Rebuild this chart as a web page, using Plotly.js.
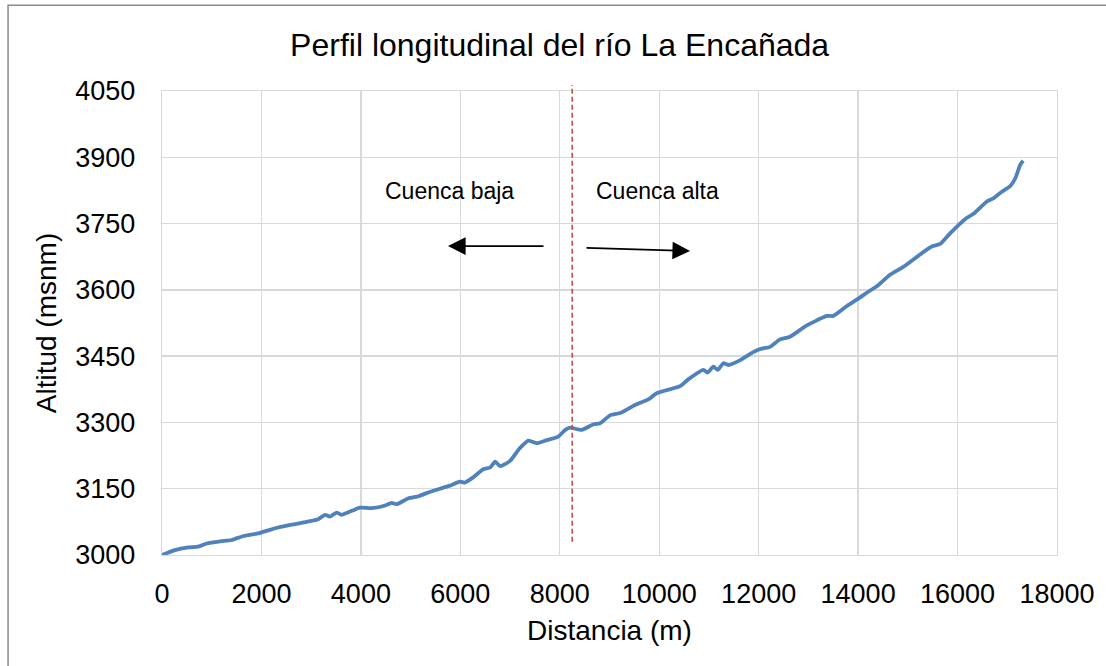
<!DOCTYPE html>
<html>
<head>
<meta charset="utf-8">
<script src="https://cdn.plot.ly/plotly-3.0.1.min.js"></script>
<style>html,body{margin:0;padding:0;background:#fff;}#chart{width:1106px;height:666px;}</style>
</head>
<body>
<div id="chart"></div>
<script>
// Distance along river (m)
const distancia = [0,260,530,730,900,1170,1400,1640,1940,2170,2410,2680,2910,3140,3280,3380,3510,3610,3820,3980,4220,4490,4620,4720,4950,5160,5320,5590,5790,5990,6090,6260,6460,6600,6700,6800,7000,7190,7370,7540,7740,7970,8110,8210,8440,8680,8810,9010,9230,9520,9780,9950,10420,10590,10890,10970,11090,11180,11290,11390,11630,11830,12030,12230,12430,12630,12930,13100,13370,13500,13770,14040,14140,14410,14640,14910,15210,15480,15650,15850,16150,16320,16590,16720,16890,17060,17160,17260,17320];
// Altitude (msnm)
const altitud = [3000,3011,3017,3019,3026,3031,3034,3043,3049,3057,3064,3070,3075,3081,3091,3087,3096,3091,3100,3107,3106,3112,3118,3115,3128,3133,3140,3150,3157,3166,3164,3176,3194,3198,3211,3201,3213,3241,3259,3253,3260,3268,3283,3288,3283,3296,3298,3316,3322,3340,3352,3366,3382,3398,3419,3413,3426,3419,3434,3430,3441,3455,3466,3471,3488,3494,3517,3527,3541,3541,3563,3583,3591,3611,3634,3652,3677,3698,3704,3728,3760,3772,3800,3807,3822,3835,3852,3883,3892];

const xTicks = [0,2000,4000,6000,8000,10000,12000,14000,16000,18000];
const yTicks = [3000,3150,3300,3450,3600,3750,3900,4050];
const xRange = [0,18000];
const yRange = [3000,4050];

// Division between lower and upper basin (m)
const division = 8250;
const divisionLow = 3030;
const labels = ["Cuenca baja","Cuenca alta"];
const labelX = [5790, 9956];
const labelY = 3824;
const arrowLeft = {head:[5752,3699], tail:[7703,3699]};
const arrowRight = {head:[10620,3688], tail:[8508,3695]};

const font = "Liberation Sans, Arial, sans-serif";
const divPaper = (division - xRange[0]) / (xRange[1] - xRange[0]);
const lowPaper = (divisionLow - yRange[0]) / (yRange[1] - yRange[0]);

const trace = {
  x: distancia, y: altitud, type: 'scatter', mode: 'lines',
  line: {color: '#4f81bd', width: 3.8, shape: 'spline', smoothing: 0.6},
  hoverinfo: 'skip'
};

const ann = [
  {x: labelX[0], y: labelY, xref:'x', yref:'y', text: labels[0], showarrow:false, font:{family:font, size:23, color:'#000'}},
  {x: labelX[1], y: labelY, xref:'x', yref:'y', text: labels[1], showarrow:false, font:{family:font, size:23, color:'#000'}},
  {x: arrowLeft.head[0], y: arrowLeft.head[1], ax: arrowLeft.tail[0], ay: arrowLeft.tail[1], xref:'x', yref:'y', axref:'x', ayref:'y', text:'', showarrow:true, arrowhead:2, arrowsize:2.2, arrowwidth:1.6, arrowcolor:'#000', standoff:0, startstandoff:0},
  {x: arrowRight.head[0], y: arrowRight.head[1], ax: arrowRight.tail[0], ay: arrowRight.tail[1], xref:'x', yref:'y', axref:'x', ayref:'y', text:'', showarrow:true, arrowhead:2, arrowsize:2.2, arrowwidth:1.6, arrowcolor:'#000', standoff:0, startstandoff:0}
];

const layout = {
  width: 1106, height: 666,
  margin: {l:162, r:49, t:91, b:111, pad:0},
  paper_bgcolor: '#fff', plot_bgcolor: '#fff',
  showlegend: false,
  font: {family: font, color: '#000'},
  title: {text: 'Perfil longitudinal del río La Encañada', font:{family:font, size:32, color:'#000'}, x: 0.506, xref:'container', xanchor:'center', y: 0.932, yref:'container', yanchor:'middle'},
  xaxis: {
    range: xRange, tickvals: xTicks, ticktext: xTicks.map(String),
    showgrid: true, gridcolor: '#d9d9d9', gridwidth: 1.3,
    showline: true, linecolor: '#d9d9d9', linewidth: 1.3, mirror: true,
    zeroline: false, ticks: '', ticklabelstandoff: 14,
    tickfont: {family:font, size:27, color:'#000'},
    title: {text: 'Distancia (m)', font:{family:font, size:28, color:'#000'}, standoff: 12}
  },
  yaxis: {
    range: yRange, tickvals: yTicks, ticktext: yTicks.map(String),
    showgrid: true, gridcolor: '#d9d9d9', gridwidth: 1.3,
    showline: true, linecolor: '#d9d9d9', linewidth: 1.3, mirror: true,
    zeroline: false, ticks: '', ticklabelstandoff: 20,
    tickfont: {family:font, size:27, color:'#000'},
    title: {text: 'Altitud (msnm)', font:{family:font, size:28, color:'#000'}, standoff: 10}
  },
  shapes: [
    {type:'line', xref:'paper', yref:'paper', x0: divPaper, x1: divPaper, y0: lowPaper, y1: 1.013,
     line:{color:'#c0504d', width:1.6, dash:'5px,3px'}},
    {type:'rect', xref:'paper', yref:'paper', x0: -0.172, x1: 1.2, y0: -0.3, y1: 1.185,
     line:{color:'#8a8a8a', width:1.5}, fillcolor:'rgba(0,0,0,0)', layer:'below'}
  ],
  annotations: ann
};

Plotly.newPlot('chart', [trace], layout, {staticPlot:true, displayModeBar:false});
</script>
</body>
</html>
